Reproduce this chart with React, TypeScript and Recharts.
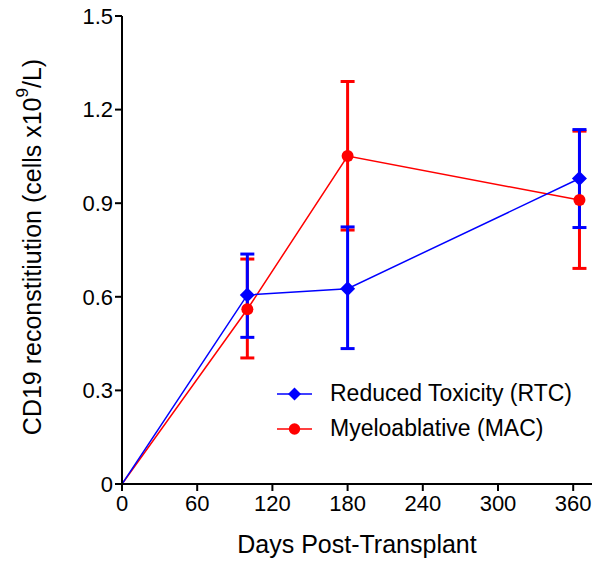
import { CartesianGrid, ErrorBar, Label, Legend, Line, LineChart, XAxis, YAxis } from "recharts";

const days = [0, 100, 180, 365];
const rtcMean = [0, 0.606, 0.626, 0.979];
const rtcErr: (number[] | undefined)[] = [undefined, [0.136, 0.131], [0.192, 0.198], [0.157, 0.157]];
const macMean = [0, 0.56, 1.051, 0.91];
const macErr: (number[] | undefined)[] = [undefined, [0.156, 0.161], [0.237, 0.239], [0.219, 0.221]];
const xTicks = [0, 60, 120, 180, 240, 300, 360];
const yTicks = [0, 0.3, 0.6, 0.9, 1.2, 1.5];
const seriesNames = ["Reduced Toxicity (RTC)", "Myeloablative (MAC)"];

const rows = days.map((d, i) => ({
  day: d,
  rtc: rtcMean[i],
  rtcErr: rtcErr[i],
  mac: macMean[i],
  macErr: macErr[i],
}));

const FONT = "'Liberation Sans', Arial, sans-serif";
const BLUE = "#0000ff";
const RED = "#ff0000";

function Diamond(props: any) {
  const { cx, cy, index } = props;
  if (index === 0 || cx == null) return <g key={`d${index}`} />;
  const s = 7.5;
  return (
    <polygon
      key={`d${index}`}
      points={`${cx},${cy - s} ${cx + s},${cy} ${cx},${cy + s} ${cx - s},${cy}`}
      fill={BLUE}
    />
  );
}

function Dot(props: any) {
  const { cx, cy, index } = props;
  if (index === 0 || cx == null) return <g key={`c${index}`} />;
  return <circle key={`c${index}`} cx={cx} cy={cy} r={6} fill={RED} />;
}

function YTitle() {
  const x = 32;
  const y = 247;
  return (
    <text
      x={x}
      y={y}
      transform={`rotate(-90 ${x} ${y})`}
      textAnchor="middle"
      dominantBaseline="central"
      fontFamily={FONT}
      fontSize={25}
      fill="#000"
    >
      CD19 reconstitiution (cells x10
      <tspan dy={-10} fontSize={17}>9</tspan>
      <tspan dy={10}>/L)</tspan>
    </text>
  );
}

function LegendBox() {
  const items = [
    { name: seriesNames[0], color: BLUE, shape: "diamond" },
    { name: seriesNames[1], color: RED, shape: "circle" },
  ];
  return (
    <div style={{ fontFamily: FONT, fontSize: 23, color: "#000" }}>
      {items.map((it) => (
        <div key={it.name} style={{ display: "flex", alignItems: "center", height: 35 }}>
          <svg width={50} height={20}>
            <line x1={2} y1={10} x2={37} y2={10} stroke={it.color} strokeWidth={1.5} />
            {it.shape === "diamond" ? (
              <polygon points="19.5,3.5 26,10 19.5,16.5 13,10" fill={it.color} />
            ) : (
              <circle cx={19.5} cy={10} r={5.7} fill={it.color} />
            )}
          </svg>
          <span style={{ marginLeft: 5 }}>{it.name}</span>
        </div>
      ))}
    </div>
  );
}

export default function App() {
  return (
    <div style={{ position: "absolute", left: 0, top: 0, background: "#fff" }}>
      <LineChart width={600} height={563} data={rows} margin={{ top: 16, right: 8, bottom: 0, left: 0 }}>
        <CartesianGrid stroke="none" fill="#fff" />
        <XAxis
          dataKey="day"
          type="number"
          domain={[0, 375]}
          ticks={xTicks}
          allowDataOverflow
          height={79}
          stroke="#000"
          strokeWidth={2}
          tickSize={7}
          tickMargin={4}
          tick={{ fill: "#000", fontSize: 22, fontFamily: FONT }}
        >
          <Label
            value="Days Post-Transplant"
            position="insideBottom"
            offset={10}
            style={{ fill: "#000", fontSize: 25, fontFamily: FONT }}
          />
        </XAxis>
        <YAxis
          type="number"
          domain={[0, 1.5]}
          ticks={yTicks}
          width={122}
          stroke="#000"
          strokeWidth={2}
          tickSize={7}
          tickFormatter={(v: number) => (v === 0 ? "0" : v.toFixed(1))}
          tick={{ fill: "#000", fontSize: 22, fontFamily: FONT }}
        >
          <Label content={<YTitle />} />
        </YAxis>
        <Legend
          layout="vertical"
          align="center"
          verticalAlign="middle"
          content={<LegendBox />}
          wrapperStyle={{ position: "absolute", left: 275, top: 376, width: 320 }}
        />
        <Line
          dataKey="mac"
          name={seriesNames[1]}
          stroke={RED}
          strokeWidth={1.5}
          dot={<Dot />}
          activeDot={false}
          isAnimationActive={false}
        >
          <ErrorBar dataKey="macErr" width={7} stroke={RED} strokeWidth={3} />
        </Line>
        <Line
          dataKey="rtc"
          name={seriesNames[0]}
          stroke={BLUE}
          strokeWidth={1.5}
          dot={<Diamond />}
          activeDot={false}
          isAnimationActive={false}
        >
          <ErrorBar dataKey="rtcErr" width={7} stroke={BLUE} strokeWidth={3} />
        </Line>
      </LineChart>
    </div>
  );
}
